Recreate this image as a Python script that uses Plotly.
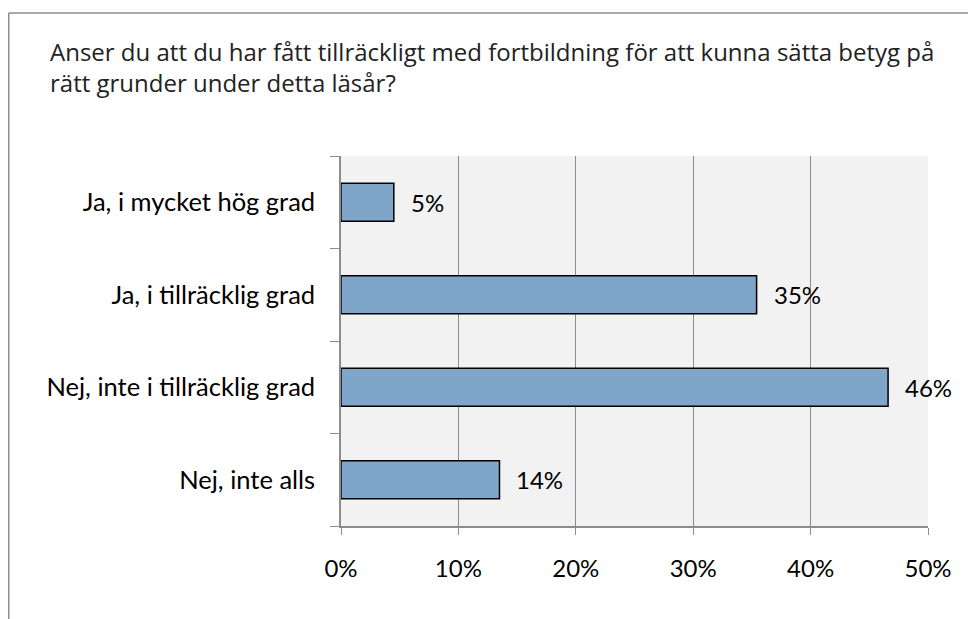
import plotly.graph_objects as go

title_text = "Anser du att du har fått tillräckligt med fortbildning för att kunna sätta betyg på<br>rätt grunder under detta läsår?"
categories = ["Ja, i mycket hög grad", "Ja, i tillräcklig grad", "Nej, inte i tillräcklig grad", "Nej, inte alls"]
values = [0.045, 0.354, 0.466, 0.135]
labels = ["5%", "35%", "46%", "14%"]
x_ticks = [0, 0.1, 0.2, 0.3, 0.4, 0.5]
x_ticklabels = ["0%", "10%", "20%", "30%", "40%", "50%"]

# page body has an 8px margin, so the figure is sized to fit the window
W, H = 968, 611
ML, MR, MT, MB = 333, 48, 148, 93
pw = W - ML - MR
ph = H - MT - MB
LABEL_FONT = dict(family="Lato", size=24, color="#000000")
CAT_FONT = dict(family="Lato", size=25.5, color="#000000")

fig = go.Figure()
fig.add_trace(go.Bar(
    x=values, y=categories, orientation="h",
    marker=dict(color="#7fa5c8", line=dict(color="#000000", width=1.5)),
    width=0.41, hoverinfo="skip",
))
for v, c, t in zip(values, categories, labels):
    fig.add_annotation(x=v, y=c, text=t, showarrow=False, xanchor="left",
                       xshift=15, font=LABEL_FONT)

# outer chart border (top and left visible)
bx, by = 0.75, 5
fig.add_shape(type="line", xref="paper", yref="paper",
              x0=(bx - ML) / pw, x1=(W + 5 - ML) / pw,
              y0=(H - MB - by) / ph, y1=(H - MB - by) / ph,
              line=dict(color="#8c8c8c", width=1.5))
fig.add_shape(type="line", xref="paper", yref="paper",
              x0=(bx - ML) / pw, x1=(bx - ML) / pw,
              y0=(H - MB - by) / ph, y1=-(MB + 5) / ph,
              line=dict(color="#8c8c8c", width=1.5))

fig.update_layout(
    width=W, height=H,
    margin=dict(l=ML, r=MR, t=MT, b=MB),
    paper_bgcolor="white", plot_bgcolor="#f2f2f2",
    showlegend=False,
    title=dict(text=title_text, x=42 / W, xanchor="left", y=1 - 53 / H, yanchor="top",
               font=dict(family="Open Sans", size=24, color="#222222")),
    xaxis=dict(range=[0, 0.5], tickvals=x_ticks, ticktext=x_ticklabels,
               showgrid=True, gridcolor="#8c8c8c", gridwidth=1.2,
               showline=True, linecolor="#8c8c8c", linewidth=1.5,
               ticks="outside", ticklen=7, tickcolor="#8c8c8c",
               ticklabelstandoff=13, zeroline=False, fixedrange=True,
               tickfont=LABEL_FONT),
    yaxis=dict(categoryorder="array", categoryarray=categories[::-1],
               range=[-0.5, 3.5], showgrid=False,
               showline=True, linecolor="#8c8c8c", linewidth=1.5,
               ticks="outside", ticklen=9, tickcolor="#8c8c8c",
               tickson="boundaries", ticklabelstandoff=19, fixedrange=True,
               tickfont=CAT_FONT),
)
fig.write_html("out.html")
